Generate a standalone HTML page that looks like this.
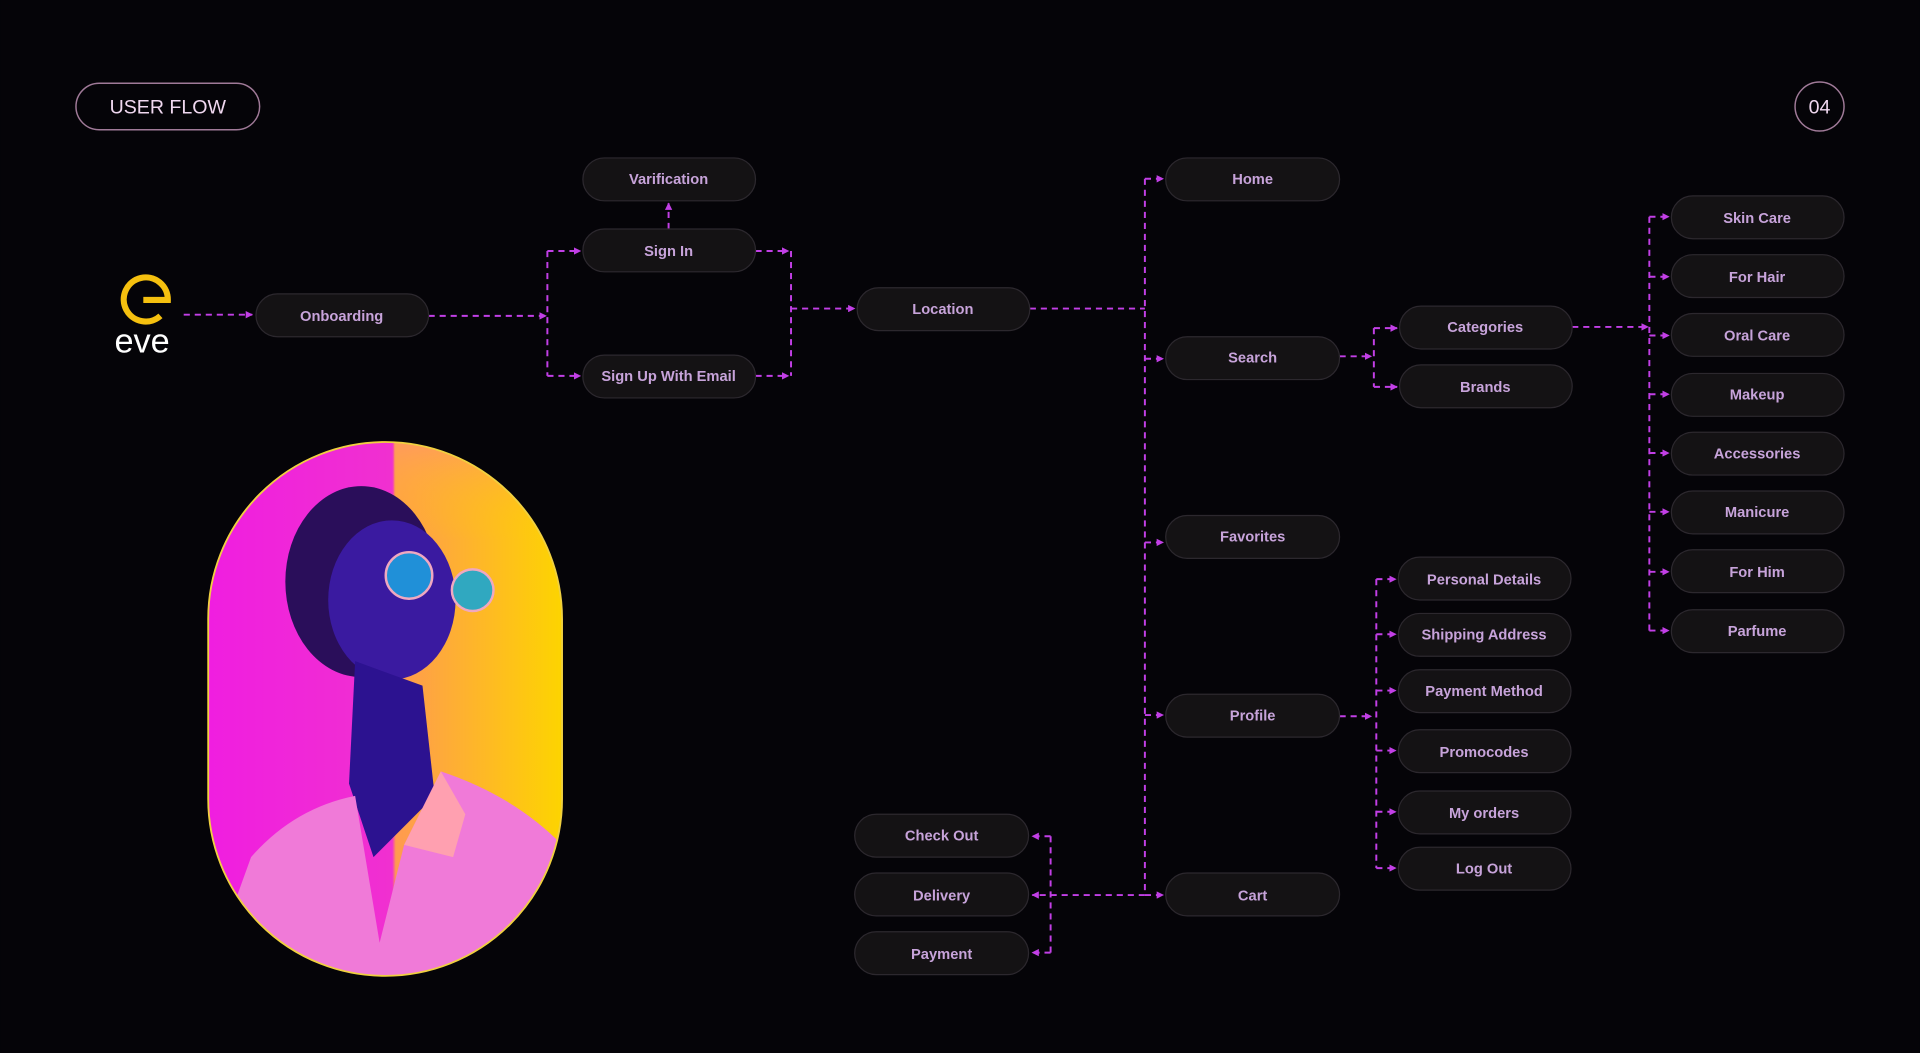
<!DOCTYPE html>
<html><head><meta charset="utf-8"><style>
html,body{margin:0;padding:0;background:#050408;}
svg{display:block}
.n rect{fill:#141214;stroke:#2c282e;stroke-width:1}
.n text{fill:#c7a3da;font-family:"Liberation Sans",sans-serif;font-size:12px;font-weight:bold;text-anchor:middle;dominant-baseline:central}
.c{fill:none;stroke:#c23fe6;stroke-width:1.6;stroke-dasharray:5 4}
</style></head><body>
<svg width="1920" height="1053" viewBox="0 0 1568 860" xmlns="http://www.w3.org/2000/svg">
<defs>
<marker id="a" viewBox="0 0 10 10" refX="9" refY="5" markerWidth="6" markerHeight="6" markerUnits="userSpaceOnUse" orient="auto"><path d="M0 0L10 5L0 10z" fill="#c23fe6"/></marker>
<linearGradient id="bg" x1="0" y1="0" x2="1" y2="0"><stop offset="0" stop-color="#f01ee0"/><stop offset="0.52" stop-color="#f030d0"/><stop offset="0.53" stop-color="#ff9a50"/><stop offset="1" stop-color="#fdd400"/></linearGradient>
<linearGradient id="yb" x1="0" y1="0" x2="0" y2="1"><stop offset="0" stop-color="#ff9a60" stop-opacity="0.8"/><stop offset="0.4" stop-color="#ffd000" stop-opacity="0"/></linearGradient>
<clipPath id="cp"><rect x="170" y="361" width="289" height="436" rx="144.5"/></clipPath>
</defs>
<rect width="1568" height="860" fill="#050408"/>
<rect x="62" y="68" width="150" height="38" rx="19" fill="none" stroke="#a07a98" stroke-width="1.2"/>
<text x="137" y="88" fill="#f0d8f0" font-family="Liberation Sans,sans-serif" font-size="16" text-anchor="middle" dominant-baseline="central">USER FLOW</text>
<circle cx="1486" cy="87" r="20" fill="none" stroke="#a07a98" stroke-width="1.2"/>
<text x="1486" y="88" fill="#f0d8f0" font-family="Liberation Sans,sans-serif" font-size="16" text-anchor="middle" dominant-baseline="central">04</text>
<path d="M117 245 H137 A18 18 0 1 0 131 258" fill="none" stroke="#f5c00f" stroke-width="5"/>
<text x="116" y="288" fill="#fff" font-family="Liberation Sans,sans-serif" font-size="28" text-anchor="middle">eve</text>
<g clip-path="url(#cp)">
<rect x="170" y="361" width="289" height="436" fill="url(#bg)"/>
<rect x="322" y="361" width="137" height="200" fill="url(#yb)"/>
<ellipse cx="295" cy="475" rx="62" ry="78" fill="#2a0e5a"/>
<ellipse cx="320" cy="490" rx="52" ry="65" fill="#3a1aa0"/>
<path d="M290 540 L345 560 L355 650 L305 700 L285 640z" fill="#2c1290"/>
<path d="M205 700 Q240 660 290 650 L310 770 L330 690 L360 630 Q420 650 459 690 L459 797 L170 797z" fill="#f07ad8"/>
<path d="M330 690 L360 630 L380 665 L370 700z" fill="#ffa0b0"/>
<circle cx="334" cy="470" r="19" fill="#2090d8" stroke="#f0a8c0" stroke-width="2"/>
<circle cx="386" cy="482" r="17" fill="#30a8c0" stroke="#f0a8c0" stroke-width="2"/>
</g>
<rect x="170" y="361" width="289" height="436" rx="144.5" fill="none" stroke="#f0d040" stroke-width="1.5"/>

<g class="c">
<path d="M150 257H206" marker-end="url(#a)"/>
<path d="M350 258H446" marker-end="url(#a)"/>
<path d="M447 205V307"/>
<path d="M447 205H474" marker-end="url(#a)"/>
<path d="M447 307H474" marker-end="url(#a)"/>
<path d="M546 187V166" marker-end="url(#a)"/>
<path d="M617 205H644" marker-end="url(#a)"/>
<path d="M617 307H644" marker-end="url(#a)"/>
<path d="M646 205V307"/>
<path d="M646 252H698" marker-end="url(#a)"/>
<path d="M841 252H935"/>
<path d="M935 146V731"/>
<path d="M935 146H950" marker-end="url(#a)"/>
<path d="M935 293H950" marker-end="url(#a)"/>
<path d="M935 443H950" marker-end="url(#a)"/>
<path d="M935 584H950" marker-end="url(#a)"/>
<path d="M935 731H950" marker-end="url(#a)"/>
<path d="M935 731H843" marker-end="url(#a)"/>
<path d="M858 683V778"/>
<path d="M858 683H843" marker-end="url(#a)"/>
<path d="M858 778H843" marker-end="url(#a)"/>
<path d="M1094 291H1120" marker-end="url(#a)"/>
<path d="M1122 268V316"/>
<path d="M1122 268H1141" marker-end="url(#a)"/>
<path d="M1122 316H1141" marker-end="url(#a)"/>
<path d="M1284 267H1346" marker-end="url(#a)"/>
<path d="M1347 177V515"/>
<path d="M1347 177H1363" marker-end="url(#a)"/>
<path d="M1347 226H1363" marker-end="url(#a)"/>
<path d="M1347 274H1363" marker-end="url(#a)"/>
<path d="M1347 322H1363" marker-end="url(#a)"/>
<path d="M1347 370H1363" marker-end="url(#a)"/>
<path d="M1347 418H1363" marker-end="url(#a)"/>
<path d="M1347 467H1363" marker-end="url(#a)"/>
<path d="M1347 515H1363" marker-end="url(#a)"/>
<path d="M1094 585H1120" marker-end="url(#a)"/>
<path d="M1124 473V709"/>
<path d="M1124 473H1140" marker-end="url(#a)"/>
<path d="M1124 518H1140" marker-end="url(#a)"/>
<path d="M1124 564H1140" marker-end="url(#a)"/>
<path d="M1124 613H1140" marker-end="url(#a)"/>
<path d="M1124 663H1140" marker-end="url(#a)"/>
<path d="M1124 709H1140" marker-end="url(#a)"/>
</g>

<g class="n" transform="translate(0,1)">
<rect x="476" y="128" width="141" height="35" rx="17.5"/><text x="546" y="146">Varification</text>
<rect x="476" y="186" width="141" height="35" rx="17.5"/><text x="546" y="205">Sign In</text>
<rect x="476" y="289" width="141" height="35" rx="17.5"/><text x="546" y="307">Sign  Up With Email</text>
<rect x="209" y="239" width="141" height="35" rx="17.5"/><text x="279" y="258">Onboarding</text>
<rect x="700" y="234" width="141" height="35" rx="17.5"/><text x="770" y="252">Location</text>
<rect x="952" y="128" width="142" height="35" rx="17.5"/><text x="1023" y="146">Home</text>
<rect x="952" y="274" width="142" height="35" rx="17.5"/><text x="1023" y="292">Search</text>
<rect x="952" y="420" width="142" height="35" rx="17.5"/><text x="1023" y="438">Favorites</text>
<rect x="952" y="566" width="142" height="35" rx="17.5"/><text x="1023" y="584">Profile</text>
<rect x="952" y="712" width="142" height="35" rx="17.5"/><text x="1023" y="731">Cart</text>
<rect x="698" y="664" width="142" height="35" rx="17.5"/><text x="769" y="682">Check Out</text>
<rect x="698" y="712" width="142" height="35" rx="17.5"/><text x="769" y="731">Delivery</text>
<rect x="698" y="760" width="142" height="35" rx="17.5"/><text x="769" y="779">Payment</text>
<rect x="1143" y="249" width="141" height="35" rx="17.5"/><text x="1213" y="267">Categories</text>
<rect x="1143" y="297" width="141" height="35" rx="17.5"/><text x="1213" y="316">Brands</text>
<rect x="1142" y="454" width="141" height="35" rx="17.5"/><text x="1212" y="473">Personal Details</text>
<rect x="1142" y="500" width="141" height="35" rx="17.5"/><text x="1212" y="518">Shipping Address</text>
<rect x="1142" y="546" width="141" height="35" rx="17.5"/><text x="1212" y="564">Payment Method</text>
<rect x="1142" y="595" width="141" height="35" rx="17.5"/><text x="1212" y="614">Promocodes</text>
<rect x="1142" y="645" width="141" height="35" rx="17.5"/><text x="1212" y="664">My orders</text>
<rect x="1142" y="691" width="141" height="35" rx="17.5"/><text x="1212" y="709">Log Out</text>
<rect x="1365" y="159" width="141" height="35" rx="17.5"/><text x="1435" y="178">Skin Care</text>
<rect x="1365" y="207" width="141" height="35" rx="17.5"/><text x="1435" y="226">For Hair</text>
<rect x="1365" y="255" width="141" height="35" rx="17.5"/><text x="1435" y="274">Oral Care</text>
<rect x="1365" y="304" width="141" height="35" rx="17.5"/><text x="1435" y="322">Makeup</text>
<rect x="1365" y="352" width="141" height="35" rx="17.5"/><text x="1435" y="370">Accessories</text>
<rect x="1365" y="400" width="141" height="35" rx="17.5"/><text x="1435" y="418">Manicure</text>
<rect x="1365" y="448" width="141" height="35" rx="17.5"/><text x="1435" y="467">For Him</text>
<rect x="1365" y="497" width="141" height="35" rx="17.5"/><text x="1435" y="515">Parfume</text>
</g>
</svg>
</body></html>
